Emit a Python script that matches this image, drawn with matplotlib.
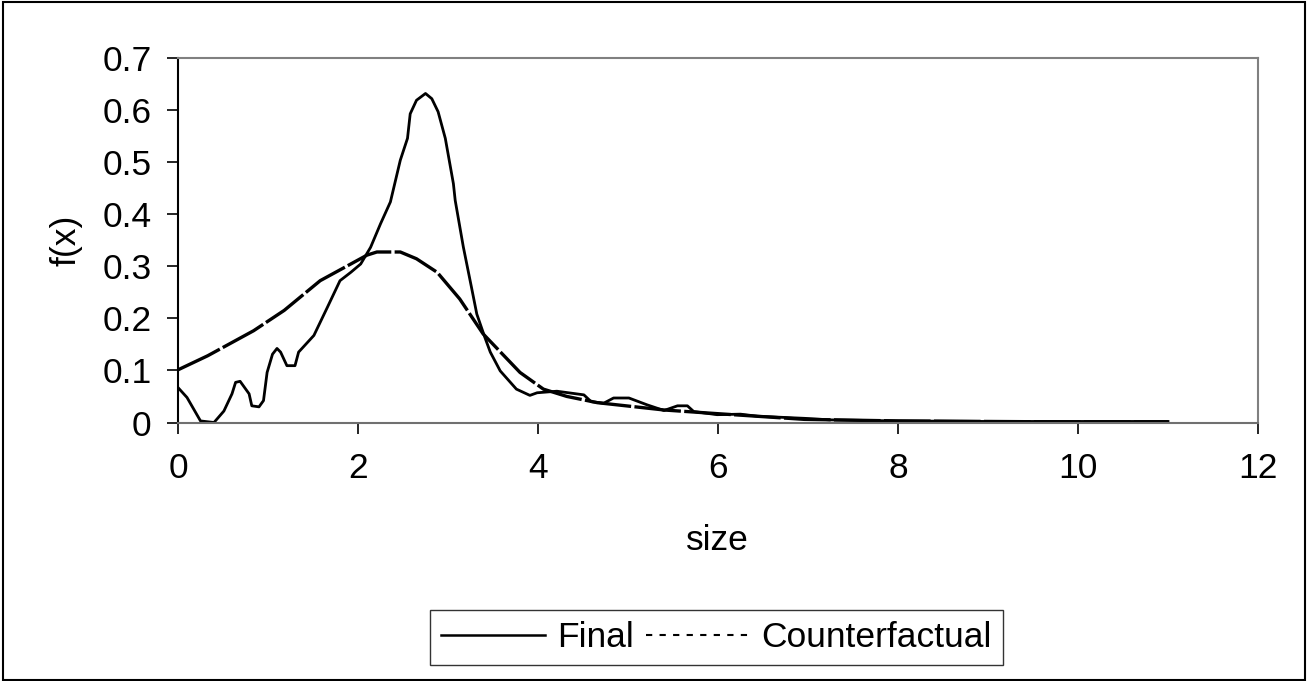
import matplotlib
matplotlib.use('Agg')
import matplotlib.pyplot as plt
from matplotlib.lines import Line2D
from matplotlib.patches import Rectangle
from matplotlib.ticker import FuncFormatter

plt.rcParams['font.family'] = ['Liberation Sans', 'DejaVu Sans']

# values
x_final = [0, 0.10, 0.25, 0.40, 0.51, 0.60, 0.64, 0.69, 0.79, 0.82, 0.90, 0.95, 0.99, 1.05,
           1.10, 1.14, 1.21, 1.30, 1.34, 1.51, 1.66, 1.80, 1.92, 2.03, 2.14, 2.25, 2.36, 2.47,
           2.55, 2.58, 2.65, 2.75, 2.82, 2.89, 2.97, 3.06, 3.08, 3.17, 3.26, 3.32, 3.41, 3.47,
           3.58, 3.76, 3.91, 3.99, 4.21, 4.51, 4.59, 4.73, 4.84, 5.01, 5.21, 5.40, 5.55, 5.66,
           5.73, 5.99, 6.25, 6.44, 6.96, 7.25, 8.0, 9.0, 10.0, 11.0]
y_final = [0.067, 0.048, 0.003, 0.0, 0.022, 0.055, 0.077, 0.079, 0.055, 0.032, 0.030, 0.042,
           0.096, 0.131, 0.142, 0.135, 0.109, 0.109, 0.135, 0.167, 0.221, 0.272, 0.288, 0.304,
           0.336, 0.381, 0.423, 0.503, 0.545, 0.592, 0.618, 0.631, 0.621, 0.596, 0.545, 0.458,
           0.426, 0.337, 0.260, 0.208, 0.163, 0.135, 0.099, 0.064, 0.052, 0.057, 0.060, 0.053,
           0.040, 0.037, 0.047, 0.047, 0.034, 0.023, 0.032, 0.032, 0.021, 0.015, 0.016, 0.012,
           0.008, 0.005, 0.003, 0.002, 0.002, 0.002]

x_cf = [0, 0.33, 0.84, 1.18, 1.58, 1.92, 2.10, 2.21, 2.47, 2.65, 2.88, 3.13, 3.39, 3.80,
        4.06, 4.32, 4.66, 5.40, 5.99, 6.96, 8.0, 9.0, 10.0, 11.0]
y_cf = [0.101, 0.128, 0.176, 0.215, 0.272, 0.304, 0.321, 0.327, 0.327, 0.314, 0.288, 0.237,
        0.170, 0.096, 0.064, 0.050, 0.038, 0.024, 0.017, 0.006, 0.003, 0.002, 0.001, 0.001]

xticks = [0, 2, 4, 6, 8, 10, 12]
yticks = [0, 0.1, 0.2, 0.3, 0.4, 0.5, 0.6, 0.7]

FS = 25.5

fig = plt.figure(figsize=(13.08, 6.81), dpi=100)
ax = fig.add_axes([178/1308, 1-422.5/681, 1080/1308, 365/681])

ax.plot(x_final, y_final, color='black', lw=2.0)
ax.plot(x_cf, y_cf, color='black', lw=2.4, linestyle=(0, (14, 1)))

ax.set_xlim(0, 12)
ax.set_ylim(0, 0.7)
ax.set_xticks(xticks)
ax.set_yticks(yticks)
ax.yaxis.set_major_formatter(FuncFormatter(lambda v, p: '%g' % round(v, 2)))
ax.tick_params(direction='out', length=8, width=1.2, labelsize=FS, colors='black')
ax.tick_params(axis='x', pad=13)
ax.tick_params(axis='y', pad=11)

for s in ['top', 'right']:
    ax.spines[s].set_color('#808080')
    ax.spines[s].set_linewidth(1.5)
ax.spines['left'].set_color('black')
ax.spines['left'].set_linewidth(1.5)
ax.spines['bottom'].set_color('#707070')
ax.spines['bottom'].set_linewidth(1.5)

fig.text(717/1308, 1-540/681, 'size', fontsize=FS, ha='center', va='center')
fig.text(66/1308, 1-240/681, 'f(x)', fontsize=FS, ha='center', va='center', rotation=90)

handles = [Line2D([], [], color='black', lw=1.8),
           Line2D([], [], color='black', lw=1.5, linestyle=(0, (3, 3.5)))]
leg = fig.legend(handles, ['Final', 'Counterfactual'], loc='center',
                 bbox_to_anchor=(716.5/1308, 1-637.5/681), ncol=2, fontsize=FS,
                 frameon=True, fancybox=False, handlelength=2.95, handletextpad=0.33,
                 columnspacing=0.33, borderpad=0.3, borderaxespad=0)
leg.get_frame().set_edgecolor('black')
leg.get_frame().set_linewidth(1.0)

# outer chart border
fig.patches.append(Rectangle((2.5/1308, 1.5/681), 1302/1308, 678/681,
                             transform=fig.transFigure, fill=False,
                             edgecolor='black', lw=1.5))

fig.savefig('out.png', dpi=100)
